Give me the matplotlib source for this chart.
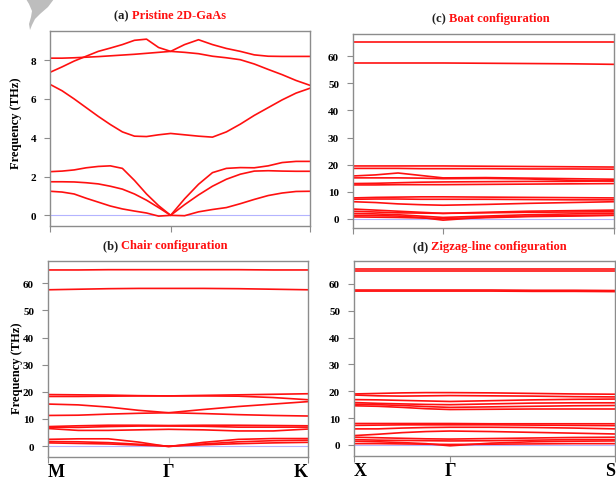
import matplotlib.pyplot as plt
import numpy as np
from matplotlib.patches import Polygon

W, H = 616, 481
RED = '#ff1010'
GREY = '#8c8c8c'

# (a) pristine 2D-GaAs, M -> G -> K, 11 + 10 samples
a_bands = [
    [7.37, 7.65, 7.95, 8.2, 8.45, 8.62, 8.8, 9.02, 9.08, 8.65, 8.45,
     8.8, 9.05, 8.8, 8.6, 8.45, 8.27, 8.2, 8.19, 8.19, 8.19],
    [8.1, 8.1, 8.12, 8.15, 8.18, 8.22, 8.26, 8.3, 8.35, 8.4, 8.45,
     8.4, 8.33, 8.2, 8.12, 8.02, 7.8, 7.52, 7.25, 6.95, 6.7],
    [6.75, 6.42, 6.0, 5.55, 5.1, 4.68, 4.3, 4.08, 4.06, 4.15, 4.22,
     4.15, 4.08, 4.03, 4.3, 4.7, 5.15, 5.55, 5.95, 6.3, 6.55],
    [2.25, 2.28, 2.34, 2.45, 2.52, 2.55, 2.42, 1.8, 1.1, 0.5, 0.0,
     0.85, 1.6, 2.2, 2.42, 2.46, 2.45, 2.55, 2.72, 2.78, 2.78],
    [1.73, 1.73, 1.72, 1.68, 1.62, 1.5, 1.35, 1.1, 0.78, 0.4, 0.0,
     0.55, 1.05, 1.5, 1.86, 2.12, 2.28, 2.3, 2.28, 2.27, 2.27],
    [1.24, 1.2, 1.1, 0.88, 0.68, 0.48, 0.33, 0.22, 0.12, -0.04, 0.0,
     -0.02, 0.18, 0.3, 0.4, 0.6, 0.82, 1.02, 1.15, 1.23, 1.24],
]

# (b) chair, M -> G -> K, 5 + 4 samples
b_bands = [
    [64.9, 64.9, 65.0, 65.0, 65.0, 65.0, 65.0, 64.9, 64.9],
    [57.6, 57.8, 58.0, 58.1, 58.1, 58.1, 58.0, 57.8, 57.6],
    [19.0, 18.9, 18.8, 18.6, 18.5, 18.7, 18.9, 19.1, 19.3],
    [18.3, 18.3, 18.4, 18.5, 18.5, 18.5, 18.4, 17.9, 17.1],
    [15.5, 15.2, 14.4, 13.2, 12.3, 13.5, 14.6, 15.5, 16.4],
    [11.3, 11.4, 11.8, 12.1, 12.3, 12.0, 11.6, 11.3, 11.1],
    [7.2, 7.5, 7.7, 7.7, 7.6, 7.7, 7.7, 7.6, 7.5],
    [7.0, 6.9, 7.2, 7.4, 7.4, 7.3, 7.0, 7.0, 7.0],
    [6.5, 5.8, 5.8, 6.0, 6.2, 6.0, 5.6, 5.6, 6.3],
    [2.5, 2.7, 2.7, 1.5, -0.2, 1.4, 2.5, 2.8, 2.8],
    [1.7, 1.6, 1.3, 0.7, 0.0, 0.8, 1.6, 2.0, 2.2],
    [1.2, 1.0, 0.8, 0.4, 0.0, 0.5, 0.9, 1.2, 1.4],
]

# (c) boat, X -> G -> S
c_bands = [
    [65.1, 65.1, 65.1, 65.1, 65.1, 65.1, 65.1, 65.1, 65.1],
    [57.5, 57.5, 57.5, 57.5, 57.5, 57.4, 57.3, 57.2, 57.0],
    [19.5, 19.5, 19.5, 19.5, 19.5, 19.4, 19.3, 19.2, 19.1],
    [18.6, 18.6, 18.6, 18.5, 18.5, 18.5, 18.4, 18.4, 18.3],
    [15.8, 16.2, 16.9, 16.0, 15.1, 15.2, 15.0, 14.8, 14.6],
    [15.1, 15.1, 15.1, 15.0, 14.8, 14.9, 14.7, 14.2, 13.9],
    [13.0, 13.1, 13.3, 13.5, 13.6, 13.7, 13.8, 13.8, 14.0],
    [12.5, 12.5, 12.6, 12.6, 12.6, 12.7, 12.8, 12.9, 13.0],
    [7.7, 7.9, 8.0, 8.1, 8.1, 8.0, 7.9, 7.8, 7.7],
    [7.2, 7.3, 7.3, 7.2, 7.2, 7.2, 7.1, 7.0, 7.0],
    [6.3, 6.0, 5.5, 5.2, 5.0, 5.3, 5.7, 6.0, 6.3],
    [3.6, 3.2, 2.8, 2.4, 2.0, 2.4, 2.8, 3.0, 3.2],
    [2.8, 2.5, 2.2, 2.1, 2.0, 2.2, 2.4, 2.5, 2.6],
    [2.0, 1.8, 1.5, 1.0, 0.5, 1.0, 1.5, 1.8, 2.0],
    [1.3, 1.2, 1.0, 0.5, -0.5, 0.6, 1.0, 1.2, 1.3],
    [0.7, 0.6, 0.5, 0.3, 0.1, 0.4, 0.8, 1.0, 1.3],
]

# (d) zigzag-line, X -> G -> S
d_bands = [
    [65.6, 65.6, 65.6, 65.6, 65.6, 65.6, 65.6, 65.6, 65.6],
    [64.6, 64.6, 64.6, 64.6, 64.6, 64.6, 64.6, 64.6, 64.6],
    [57.7, 57.7, 57.7, 57.7, 57.7, 57.7, 57.6, 57.6, 57.5],
    [57.3, 57.3, 57.3, 57.3, 57.3, 57.3, 57.2, 57.2, 57.1],
    [19.0, 19.2, 19.4, 19.5, 19.5, 19.4, 19.2, 19.0, 18.9],
    [18.6, 18.3, 18.2, 18.3, 18.4, 18.3, 18.2, 18.0, 17.9],
    [16.9, 16.8, 16.6, 16.4, 16.2, 16.5, 16.8, 17.0, 17.1],
    [15.8, 15.5, 15.3, 15.1, 15.0, 15.3, 15.6, 15.7, 15.7],
    [15.2, 15.0, 14.7, 14.3, 14.0, 14.2, 14.4, 14.6, 14.7],
    [14.6, 14.4, 14.0, 13.5, 13.2, 13.3, 13.4, 13.4, 13.4],
    [8.0, 8.0, 8.0, 8.0, 8.0, 7.9, 7.9, 7.9, 7.9],
    [7.3, 7.4, 7.5, 7.5, 7.5, 7.5, 7.4, 7.3, 7.2],
    [6.0, 6.0, 6.3, 6.5, 6.6, 6.6, 6.5, 6.3, 6.0],
    [3.5, 4.0, 4.6, 5.0, 5.2, 5.0, 4.7, 4.4, 4.1],
    [2.9, 2.7, 2.5, 2.3, 2.2, 2.4, 2.6, 2.8, 2.9],
    [2.0, 1.8, 1.7, 1.6, 1.5, 1.6, 1.8, 2.0, 2.0],
    [1.4, 1.2, 0.9, 0.5, -0.3, 0.7, 1.2, 1.4, 1.5],
    [0.5, 0.5, 0.4, 0.3, 0.2, 0.3, 0.4, 0.5, 0.5],
]

titles = ['(a) ', 'Pristine 2D-GaAs', '(b) ', 'Chair configuration',
          '(c) ', 'Boat configuration', '(d) ', 'Zigzag-line configuration']

plt.rcParams['font.family'] = 'Liberation Serif'
plt.rcParams['font.weight'] = 'bold'

fig = plt.figure(figsize=(W / 100, H / 100), dpi=100)


def px_axes(l, t, r, b):
    return fig.add_axes([l / W, 1 - b / H, (r - l) / W, (b - t) / H])


def kgrid(seg1, seg2, n):
    return np.concatenate([np.linspace(0, seg1, n), np.linspace(seg1, seg1 + seg2, n)[1:]])


def panel(ax, bands, seg1, seg2, n, ylim, yticks, labels):
    k = kgrid(seg1, seg2, n)
    ax.axhline(0, color='#b4b4ff', lw=0.8, zorder=1)
    for band in bands:
        ax.plot(k, band, color=RED, lw=1.2, zorder=2)
    ax.set_xlim(0, seg1 + seg2)
    ax.set_ylim(*ylim)
    ax.set_yticks(yticks)
    ax.set_xticks([0, seg1, seg1 + seg2])
    ax.set_xticklabels(labels, fontsize=13, fontweight='bold')
    if labels[0]:
        tl = ax.get_xticklabels()
        tl[0].set_ha('left')
        tl[2].set_ha('right')
    for s in ax.spines.values():
        s.set_color(GREY)
        s.set_linewidth(1.0)
    ax.tick_params(axis='both', direction='out', length=4, color=GREY, width=0.8)
    ax.tick_params(axis='y', labelsize=8, pad=6)
    ax.tick_params(axis='x', pad=0)


ax_a = px_axes(50, 32, 310, 227)
panel(ax_a, a_bands, 1.0, 1.155, 11, (-0.55, 9.5), [0, 2, 4, 6, 8], ['', '', ''])
ax_a.set_ylabel('Frequency (THz)', fontsize=9, fontweight='bold')
ax_a.yaxis.set_label_coords(-0.108, 0.53)

ax_c = px_axes(353, 35, 614, 229)
panel(ax_c, c_bands, 0.345, 0.655, 5, (-3.4, 68.2), [0, 10, 20, 30, 40, 50, 60], ['', '', ''])

ax_b = px_axes(48, 262, 308, 458)
panel(ax_b, b_bands, 1.0, 1.155, 5, (-4.0, 68.2), [0, 10, 20, 30, 40, 50, 60], ['M', 'Γ', 'K'])
ax_b.set_ylabel('Frequency (THz)', fontsize=9, fontweight='bold')
ax_b.yaxis.set_label_coords(-0.095, 0.46)

ax_d = px_axes(354, 262, 615, 457)
panel(ax_d, d_bands, 0.368, 0.632, 5, (-4.1, 68.5), [0, 10, 20, 30, 40, 50, 60], ['X', 'Γ', 'S'])

# panel titles: black tag + red name
title_pos = [(132, 16), (121, 246), (449, 19), (431, 247)]
for i, (x, y) in enumerate(title_pos):
    fig.text(x / W, 1 - y / H, titles[2 * i], ha='right', va='center',
             fontsize=9, fontweight='bold', color='#202020')
    fig.text(x / W, 1 - y / H, titles[2 * i + 1], ha='left', va='center',
             fontsize=9, fontweight='bold', color=RED)

# grey wedge in the top-left corner
wedge = [(26, 0), (54, 0), (48, 8), (40, 15), (35, 20), (32, 26), (30, 31),
         (29, 25), (31, 18), (32, 12), (29, 5)]
fig.patches.append(Polygon([(x / W, 1 - y / H) for x, y in wedge], closed=True,
                           transform=fig.transFigure, facecolor='#bdbdbd',
                           edgecolor='none'))

fig.savefig('out.png', dpi=100)
